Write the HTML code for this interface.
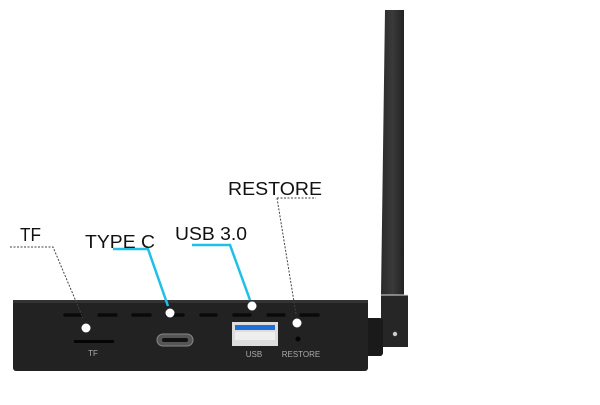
<!DOCTYPE html>
<html><head><style>
body{margin:0;background:#fff;width:600px;height:400px;overflow:hidden;font-family:"Liberation Sans",sans-serif}
</style></head><body>
<svg width="600" height="400" xmlns="http://www.w3.org/2000/svg">
<defs>
<linearGradient id="ant" x1="0" x2="1"><stop offset="0" stop-color="#2a2a2a"/><stop offset="0.5" stop-color="#3a3a3a"/><stop offset="1" stop-color="#222"/></linearGradient>
</defs>
<polygon points="385,10 404,10 404,295 381,295" fill="url(#ant)"/>
<rect x="381" y="295" width="27" height="52" fill="#262626"/>
<line x1="381" y1="295" x2="408" y2="295" stroke="#ddd" stroke-width="1"/>
<circle cx="395" cy="334" r="2.2" fill="#ccc"/>
<rect x="365" y="318" width="18" height="38" rx="3" fill="#1a1a1a"/>
<rect x="13" y="300" width="355" height="71" rx="3" fill="#222"/>
<rect x="13" y="300" width="355" height="3" fill="#333"/>
<g stroke="#0a0a0a" stroke-width="3.5" stroke-linecap="round">
<line x1="65" y1="315" x2="81" y2="315"/><line x1="99" y1="315" x2="116" y2="315"/>
<line x1="133" y1="315" x2="150" y2="315"/><line x1="167" y1="315" x2="183" y2="315"/>
<line x1="201" y1="315" x2="216" y2="315"/><line x1="234" y1="315" x2="250" y2="315"/>
<line x1="268" y1="315" x2="284" y2="315"/><line x1="301" y1="315" x2="318" y2="315"/>
</g>
<rect x="74" y="340" width="40" height="3" fill="#050505"/>
<text x="93" y="356" font-size="8" fill="#aaa" text-anchor="middle">TF</text>
<rect x="157" y="334" width="36" height="12" rx="6" fill="#555" stroke="#888" stroke-width="1"/>
<rect x="162" y="338" width="26" height="4" rx="2" fill="#111"/>
<rect x="232" y="322" width="46" height="24" fill="#ddd"/>
<rect x="235" y="325" width="40" height="5" fill="#1e6fd8"/>
<rect x="235" y="332" width="40" height="8" fill="#eee"/>
<text x="254" y="357" font-size="8" fill="#aaa" text-anchor="middle">USB</text>
<circle cx="298" cy="339" r="2.5" fill="#050505"/>
<text x="301" y="357" font-size="8" fill="#aaa" text-anchor="middle">RESTORE</text>
<polyline points="10,247 53,247 83,318" fill="none" stroke="#444" stroke-width="1" stroke-dasharray="2,1.5"/>
<polyline points="277,198 316,198" fill="none" stroke="#444" stroke-width="1" stroke-dasharray="2,1.5"/>
<polyline points="277,198 296,314" fill="none" stroke="#444" stroke-width="1" stroke-dasharray="2,1.5"/>
<polyline points="113,249 148,249 168,306" fill="none" stroke="#1ec0e8" stroke-width="2.5"/>
<polyline points="192,245 230,245 250,300" fill="none" stroke="#1ec0e8" stroke-width="2.5"/>
<g fill="#fff"><circle cx="86" cy="328" r="4.5"/><circle cx="170" cy="313" r="4.5"/><circle cx="252" cy="306" r="4.5"/><circle cx="297" cy="323" r="4.5"/></g>
<g font-size="18" fill="#111">
<text x="20" y="241" textLength="21" lengthAdjust="spacingAndGlyphs">TF</text>
<text x="85" y="248" textLength="70" lengthAdjust="spacingAndGlyphs">TYPE C</text>
<text x="175" y="240" textLength="72" lengthAdjust="spacingAndGlyphs">USB 3.0</text>
<text x="228" y="195" textLength="94" lengthAdjust="spacingAndGlyphs">RESTORE</text>
</g>
</svg>
</body></html>
